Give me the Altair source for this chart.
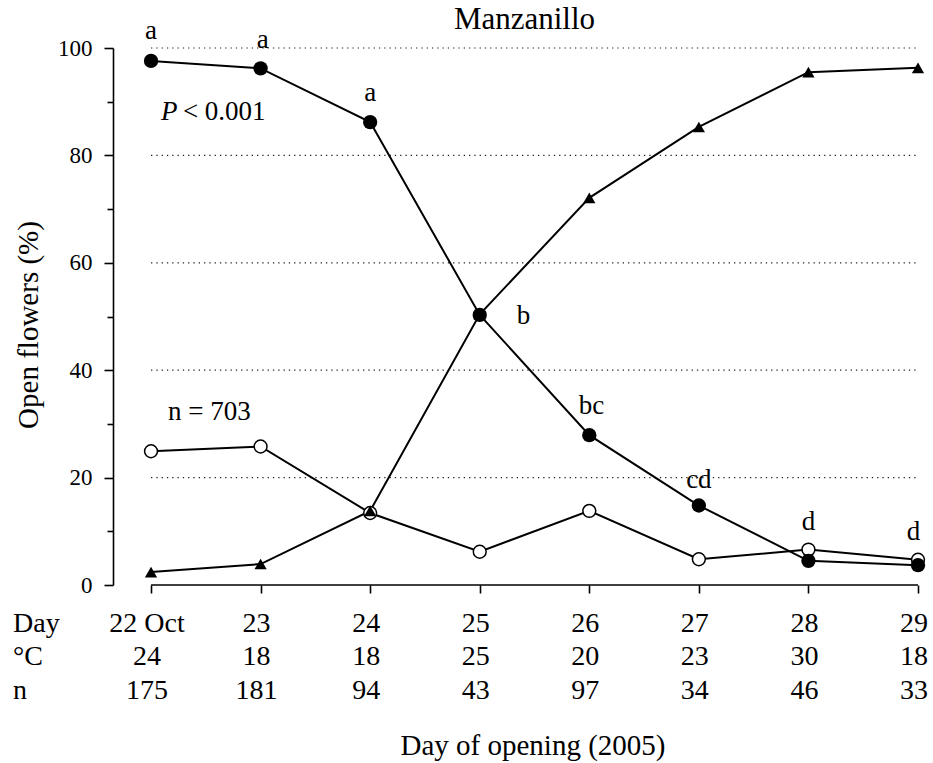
import altair as alt
import pandas as pd

# ---- data ----
days = [22, 23, 24, 25, 26, 27, 28, 29]
day_labels = ["22 Oct", "23", "24", "25", "26", "27", "28", "29"]
temps = [24, 18, 18, 25, 20, 23, 30, 18]
counts = [175, 181, 94, 43, 97, 34, 46, 33]
closed_pct = [97.6, 96.2, 86.2, 50.3, 27.9, 14.8, 4.5, 3.7]     # filled circles
open_pct = [24.9, 25.8, 13.4, 6.2, 13.8, 4.8, 6.6, 4.7]         # open circles
tri_pct = [2.4, 3.9, 13.8, 50.4, 72.1, 85.3, 95.5, 96.3]         # triangles
letters = ["a", "a", "a", "b", "bc", "cd", "d", "d"]
letter_day = [22.0, 23.02, 24.0, 25.4, 26.02, 27.0, 28.0, 28.96]
letter_val = [103.2, 101.5, 91.6, 50.1, 33.3, 19.6, 11.7, 9.9]
grid_vals = [20, 40, 60, 80, 100]
y_ticks = list(range(0, 101, 10))

FONT = "Liberation Serif"
W, H = 805, 537

xs = alt.Scale(domain=[21.653, 29], nice=False, zero=False)
ys = alt.Scale(domain=[0, 100], nice=False)

x_axis = alt.Axis(values=days, domain=False, labels=False, grid=False,
                  tickSize=8, tickWidth=1.6, tickColor="black", title=None)
y_axis = alt.Axis(values=y_ticks,
                  labelExpr="datum.value % 20 === 0 ? datum.label : ''",
                  tickSize={"condition": {"test": "datum.value % 20 === 0", "value": 9}, "value": 6},
                  tickWidth=1.6, tickColor="black", domainWidth=1.6, domainColor="black",
                  labelFont=FONT, labelFontSize=23, labelColor="black", labelPadding=12,
                  grid=False, title=None)

X = alt.X("day:Q", scale=xs, axis=x_axis)
Y = alt.Y("value:Q", scale=ys, axis=y_axis)

def series(vals):
    return pd.DataFrame({"day": days, "value": vals})

df_closed = series(closed_pct)
df_open = series(open_pct)
df_tri = series(tri_pct)

grid_df = pd.DataFrame({"day": [22] * len(grid_vals), "day2": [29] * len(grid_vals), "value": grid_vals})
xline_df = pd.DataFrame({"day": [22], "day2": [29], "value": [0]})
letters_df = pd.DataFrame({"day": letter_day, "value": letter_val, "txt": letters})
table_df = pd.DataFrame({"day": days, "lab": day_labels, "temp": [str(t) for t in temps],
                         "n": [str(c) for c in counts]})
one = pd.DataFrame({"k": [0]})

grid = alt.Chart(grid_df).mark_rule(color="#222", strokeWidth=1.2, strokeDash=[1.3, 4]).encode(
    x=X, x2="day2:Q", y=Y)
xline = alt.Chart(xline_df).mark_rule(color="black", strokeWidth=1.6).encode(
    x=X, x2="day2:Q", y=Y)

def line(df):
    return alt.Chart(df).mark_line(color="black", strokeWidth=2).encode(x=X, y=Y)

open_pts = alt.Chart(df_open).mark_point(shape="circle", filled=True, fill="white", stroke="black",
                                          strokeWidth=1.5, size=165, opacity=1).encode(x=X, y=Y)
closed_pts = alt.Chart(df_closed).mark_point(shape="circle", filled=True, color="black",
                                              size=205, opacity=1).encode(x=X, y=Y)
tri_pts = alt.Chart(df_tri).mark_point(shape="triangle-up", filled=True, color="black",
                                        size=150, opacity=1).encode(x=X, y=Y)

letter_txt = alt.Chart(letters_df).mark_text(font=FONT, fontSize=27, color="black",
                                             align="center", baseline="middle").encode(
    x=X, y=Y, text="txt:N")

p_df = pd.DataFrame({"day": [22.09], "value": [88.0]})
p_italic = alt.Chart(p_df).mark_text(text="P", font=FONT, fontSize=27, fontStyle="italic",
                                     color="black", align="left", baseline="middle").encode(x=X, y=Y)
p_rest = alt.Chart(p_df).mark_text(text="< 0.001", font=FONT, fontSize=27, color="black",
                                   align="left", baseline="middle", dx=22).encode(x=X, y=Y)
n_df = pd.DataFrame({"day": [22.155], "value": [32.2]})
n_txt = alt.Chart(n_df).mark_text(text="n = 703", font=FONT, fontSize=27, color="black",
                                  align="left", baseline="middle").encode(x=X, y=Y)

row_y = [576, 609, 643]
row_fields = ["lab", "temp", "n"]
row_heads = ["Day", "°C", "n"]
table_layers = []
for ry, fld, head in zip(row_y, row_fields, row_heads):
    table_layers.append(
        alt.Chart(table_df).mark_text(font=FONT, fontSize=28, color="black", align="center",
                                      baseline="middle", dx=-4).encode(
            x=X, y=alt.value(ry), text=f"{fld}:N"))
    table_layers.append(
        alt.Chart(one).mark_text(text=head, font=FONT, fontSize=28, color="black", align="left",
                                 baseline="middle").encode(x=alt.value(-100), y=alt.value(ry)))

title_txt = alt.Chart(one).mark_text(text="Manzanillo", font=FONT, fontSize=31, color="black",
                                     align="center", baseline="middle").encode(
    x=alt.value(411.5), y=alt.value(-28))
xtitle = alt.Chart(one).mark_text(text="Day of opening (2005)", font=FONT, fontSize=29, color="black",
                                  align="center", baseline="middle").encode(
    x=alt.value(420), y=alt.value(698))
ytitle = alt.Chart(one).mark_text(text="Open flowers (%)", font=FONT, fontSize=29, color="black",
                                  align="center", baseline="middle", angle=270).encode(
    x=alt.value(-84), y=alt.value(277))

chart = alt.layer(
    grid, xline,
    line(df_open), line(df_closed), line(df_tri),
    open_pts, closed_pts, tri_pts,
    letter_txt, p_italic, p_rest, n_txt,
    *table_layers, title_txt, xtitle, ytitle
).properties(
    width=W, height=H,
    autosize=alt.AutoSizeParams(type="none"),
    padding={"left": 113, "top": 48, "right": 15, "bottom": 178},
    background="white",
).configure_view(stroke=None)

chart.save("out.html", embed_options={"renderer": "svg", "actions": False})
